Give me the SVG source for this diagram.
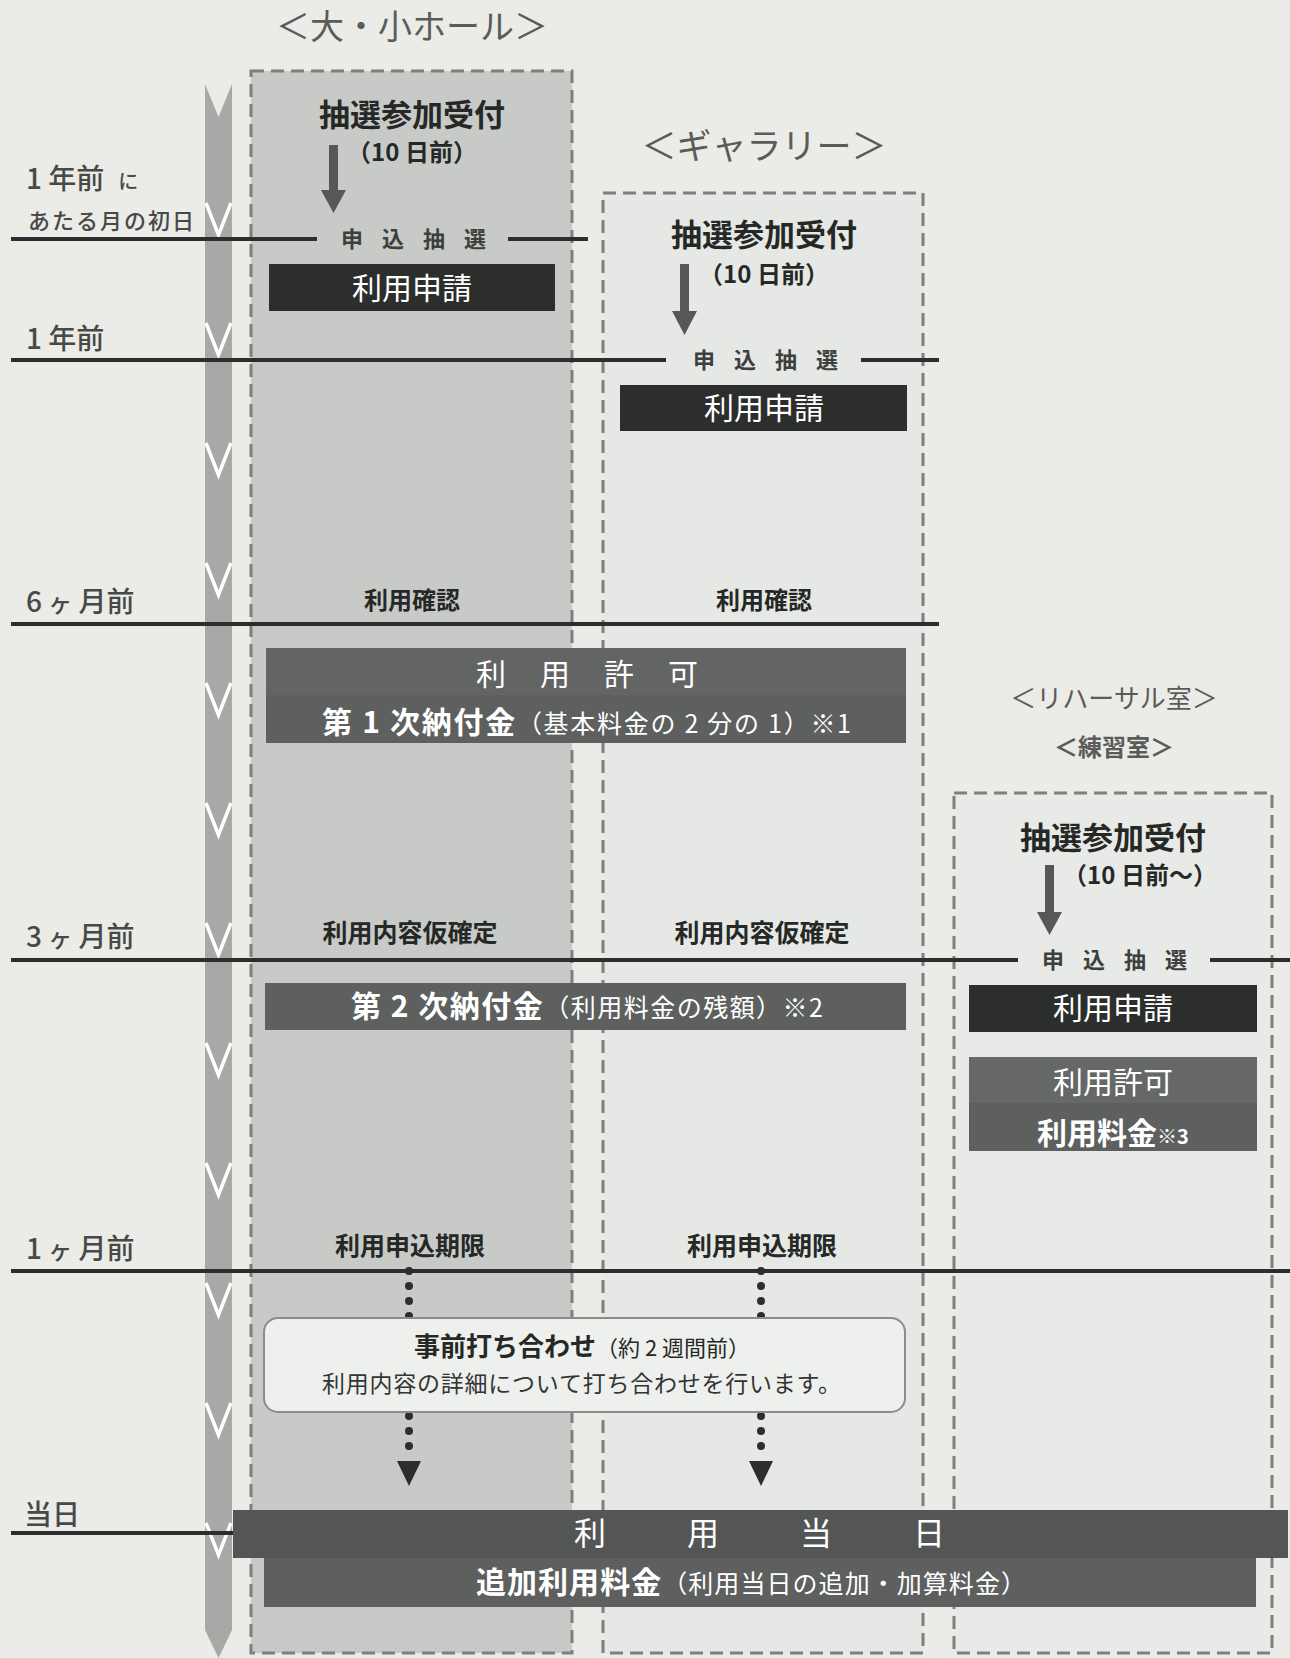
<svg xmlns="http://www.w3.org/2000/svg" width="1290" height="1658" viewBox="0 0 1290 1658">
<defs>
<style>
text{font-family:"Noto Sans CJK JP","Noto Sans",sans-serif;}
.lbl{fill:#474947;font-weight:500;}
.ttl{fill:#5a5c5a;}
.b{font-weight:bold;fill:#262826;}
.w{fill:#ffffff;}
.mid{text-anchor:middle;}
.sp{fill:#3e403e;font-weight:bold;font-size:22px;letter-spacing:19px;}
.dash{stroke:#7d807d;stroke-width:3;stroke-dasharray:13 7;}
.tl{stroke:#2b2e2c;stroke-width:4;}
.chev{fill:none;stroke:#ffffff;stroke-width:3.5;}
.dark{fill:#2b2e2c;}
.gray{fill:#5d605e;}
.arr{fill:#555856;}
.dot{fill:#2b2e2c;}
</style>
</defs>
<rect width="1290" height="1658" fill="#ebebe8"/>

<g id="timeline-arrow">
<polygon points="205,84 218.5,117 232,84 232,1630 218.5,1658 205,1630" fill="#a6a9a6"/>
<polyline class="chev" points="206,203 218.5,235 231,203"/>
<polyline class="chev" points="206,323 218.5,355 231,323"/>
<polyline class="chev" points="206,443 218.5,475 231,443"/>
<polyline class="chev" points="206,563 218.5,595 231,563"/>
<polyline class="chev" points="206,683 218.5,715 231,683"/>
<polyline class="chev" points="206,803 218.5,835 231,803"/>
<polyline class="chev" points="206,923 218.5,955 231,923"/>
<polyline class="chev" points="206,1043 218.5,1075 231,1043"/>
<polyline class="chev" points="206,1163 218.5,1195 231,1163"/>
<polyline class="chev" points="206,1283 218.5,1315 231,1283"/>
<polyline class="chev" points="206,1403 218.5,1435 231,1403"/>
<polyline class="chev" points="206,1523 218.5,1555 231,1523"/>
</g>

<g id="hall-column">
<rect x="251" y="71" width="321" height="1582" fill="#c7cac7" class="dash"/>
<text class="ttl mid" x="412" y="39" font-size="34">＜大・小ホール＞</text>
</g>
<g id="gallery-column">
<rect x="603" y="193" width="320" height="1460" fill="#e5e8e4" class="dash"/>
<text class="ttl mid" x="764" y="159" font-size="35">＜ギャラリー＞</text>
</g>
<g id="rehearsal-column">
<rect x="954" y="793" width="318" height="860" fill="#e8eae7" class="dash"/>
<text class="ttl mid" x="1114" y="708" font-size="26">＜リハーサル室＞</text>
<text class="ttl mid" x="1114" y="756" font-size="24" font-weight="bold">＜練習室＞</text>
</g>

<g id="time-lines">
<line class="tl" x1="11" y1="239" x2="317" y2="239"/>
<line class="tl" x1="508" y1="239" x2="588" y2="239"/>
<line class="tl" x1="11" y1="360" x2="666" y2="360"/>
<line class="tl" x1="861" y1="360" x2="939" y2="360"/>
<line class="tl" x1="11" y1="624" x2="939" y2="624"/>
<line class="tl" x1="11" y1="960" x2="1018" y2="960"/>
<line class="tl" x1="1210" y1="960" x2="1290" y2="960"/>
<line class="tl" x1="11" y1="1271" x2="1290" y2="1271"/>
<line class="tl" x1="11" y1="1533" x2="233" y2="1533"/>
</g>

<g id="time-labels">
<text class="lbl" x="26" y="189" font-size="28">1 年前<tspan font-size="20" dx="14">に</tspan></text>
<text class="lbl" x="28" y="229" font-size="22" textLength="166">あたる月の初日</text>
<text class="lbl" x="26" y="349" font-size="28">1 年前</text>
<text class="lbl" x="26" y="612" font-size="28">6 <tspan font-size="24">ヶ</tspan> 月前</text>
<text class="lbl" x="26" y="947" font-size="28">3 <tspan font-size="24">ヶ</tspan> 月前</text>
<text class="lbl" x="26" y="1259" font-size="28">1 <tspan font-size="24">ヶ</tspan> 月前</text>
<text class="lbl" x="24" y="1525" font-size="28">当日</text>
</g>

<g id="hall-lottery">
<text class="b mid" x="412" y="126" font-size="31">抽選参加受付</text>
<text class="b mid" x="412" y="161" font-size="24">（10 日前）</text>
</g>
<g id="hall-apply-draw">
<text class="sp" x="341" y="247">申込抽選</text>
</g>
<g id="hall-apply">
<rect x="269" y="264" width="286" height="47" class="dark"/>
<text class="w mid" x="412" y="299" font-size="30">利用申請</text>
</g>

<g id="gallery-lottery">
<text class="b mid" x="764" y="246" font-size="31">抽選参加受付</text>
<text class="b mid" x="764" y="283" font-size="24">（10 日前）</text>
</g>
<g id="gallery-apply-draw">
<text class="sp" x="693" y="368">申込抽選</text>
</g>
<g id="gallery-apply">
<rect x="620" y="385" width="287" height="46" class="dark"/>
<text class="w mid" x="764" y="419" font-size="30">利用申請</text>
</g>

<g id="hall-confirm"><text class="b mid" x="412" y="609" font-size="24">利用確認</text></g>
<g id="gallery-confirm"><text class="b mid" x="764" y="609" font-size="24">利用確認</text></g>

<g id="permit-first-payment">
<rect x="266" y="648" width="640" height="95" class="gray"/>
<rect x="266" y="648" width="640" height="47" fill="#626563"/>
<text class="w" x="476" y="685" font-size="30" letter-spacing="34">利用許可</text>
<text class="w" x="322" y="733" font-size="30" font-weight="bold" textLength="529">第 1 次納付金<tspan font-size="25" font-weight="normal">（基本料金の 2 分の 1）※1</tspan></text>
</g>

<g id="hall-provisional"><text class="b mid" x="410" y="942" font-size="25">利用内容仮確定</text></g>
<g id="gallery-provisional"><text class="b mid" x="762" y="942" font-size="25">利用内容仮確定</text></g>

<g id="second-payment">
<rect x="265" y="983" width="641" height="47" class="gray"/>
<text class="w" x="351" y="1017" font-size="30" font-weight="bold" textLength="472">第 2 次納付金<tspan font-size="25" font-weight="normal">（利用料金の残額）※2</tspan></text>
</g>

<g id="rehearsal-lottery">
<text class="b mid" x="1113" y="849" font-size="31">抽選参加受付</text>
<text class="b mid" x="1140" y="884" font-size="24">（10 日前～）</text>
</g>
<g id="rehearsal-apply-draw">
<text class="sp" x="1042" y="968">申込抽選</text>
</g>
<g id="rehearsal-apply">
<rect x="969" y="985" width="288" height="47" class="dark"/>
<text class="w mid" x="1113" y="1019" font-size="30">利用申請</text>
</g>
<g id="rehearsal-permit">
<rect x="969" y="1057" width="288" height="94" class="gray"/>
<rect x="969" y="1057" width="288" height="46" fill="#656866"/>
<text class="w mid" x="1113" y="1093" font-size="30">利用許可</text>
<text class="w mid" x="1113" y="1144" font-size="30" font-weight="bold">利用料金<tspan font-size="20">※3</tspan></text>
</g>

<g id="hall-deadline"><text class="b mid" x="410" y="1255" font-size="25">利用申込期限</text></g>
<g id="gallery-deadline"><text class="b mid" x="762" y="1255" font-size="25">利用申込期限</text></g>

<g id="connectors">
<polygon class="arr" points="329,145 338,145 338,190 346,190 333.5,213 321,190 329,190"/>
<polygon class="arr" points="680,264 689,264 689,311 697,311 684.5,335 672,311 680,311"/>
<polygon class="arr" points="1045,865 1054,865 1054,912 1062,912 1049.5,935 1037,912 1045,912"/>
<g id="dots-hall">
<circle class="dot" cx="409" cy="1271" r="4"/><circle class="dot" cx="409" cy="1286" r="4"/><circle class="dot" cx="409" cy="1301" r="4"/><circle class="dot" cx="409" cy="1316" r="4"/>
<circle class="dot" cx="409" cy="1416" r="4"/><circle class="dot" cx="409" cy="1431" r="4"/><circle class="dot" cx="409" cy="1446" r="4"/>
<polygon class="dot" points="397,1461 421,1461 409,1486"/>
</g>
<g id="dots-gallery">
<circle class="dot" cx="761" cy="1271" r="4"/><circle class="dot" cx="761" cy="1286" r="4"/><circle class="dot" cx="761" cy="1301" r="4"/><circle class="dot" cx="761" cy="1316" r="4"/>
<circle class="dot" cx="761" cy="1416" r="4"/><circle class="dot" cx="761" cy="1431" r="4"/><circle class="dot" cx="761" cy="1446" r="4"/>
<polygon class="dot" points="749,1461 773,1461 761,1486"/>
</g>
</g>

<g id="pre-meeting">
<rect x="264" y="1318" width="641" height="94" rx="14" fill="#eef0ed" stroke="#8a8d8a" stroke-width="2"/>
<text class="mid" x="582" y="1356" font-size="26" fill="#262826"><tspan font-weight="bold">事前打ち合わせ</tspan><tspan font-size="22">（約 2 週間前）</tspan></text>
<text x="322" y="1392" font-size="23" fill="#333533" textLength="519">利用内容の詳細について打ち合わせを行います。</text>
</g>

<g id="usage-day">
<rect x="264" y="1556" width="992" height="51" class="gray"/>
<rect x="233" y="1510" width="1055" height="48" fill="#535654"/>
<text class="w" x="574" y="1545" font-size="32" letter-spacing="81">利用当日</text>
<text class="w" x="476" y="1593" font-size="30" font-weight="bold" textLength="550">追加利用料金<tspan font-size="25" font-weight="normal">（利用当日の追加・加算料金）</tspan></text>
</g>
</svg>
